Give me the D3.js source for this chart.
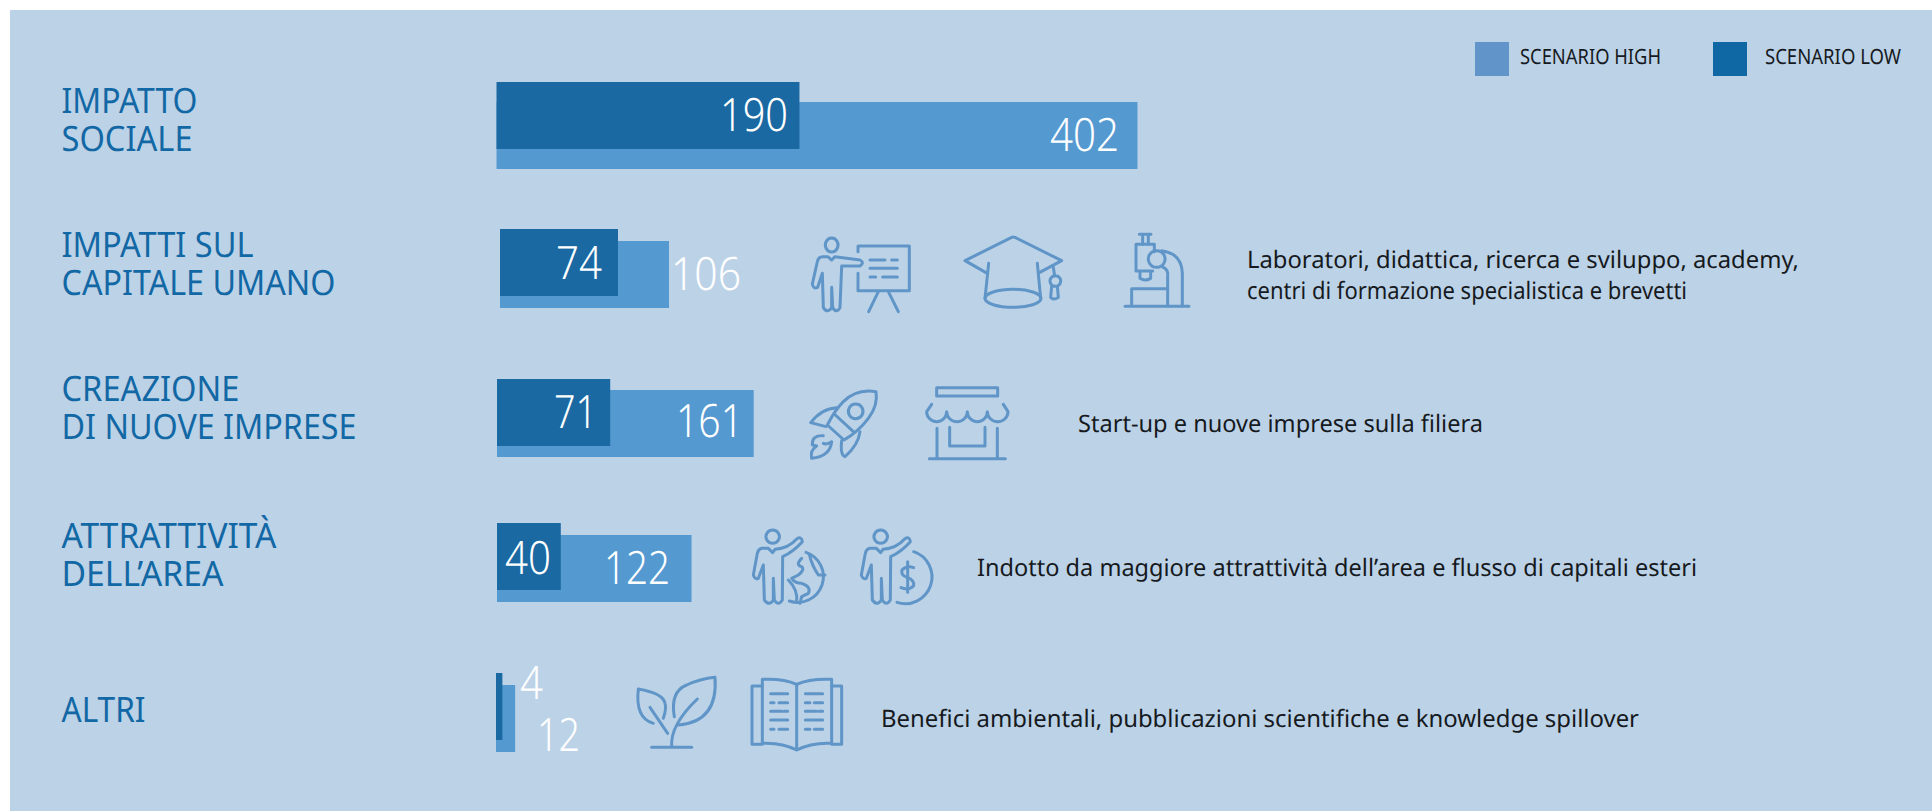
<!DOCTYPE html>
<html>
<head>
<meta charset="utf-8">
<script src="https://cdn.jsdelivr.net/npm/d3@7"></script>
<style>
  html, body { margin: 0; background: #fff; }
  svg { display: block; }
  text { font-family: "Noto Sans", sans-serif; text-rendering: geometricPrecision; }
</style>
</head>
<body>
<script>
const categories = ['sociale', 'umano', 'imprese', 'area', 'altri']
const labels = [
  ['IMPATTO', 'SOCIALE'],
  ['IMPATTI SUL', 'CAPITALE UMANO'],
  ['CREAZIONE', 'DI NUOVE IMPRESE'],
  ['ATTRATTIVITÀ', 'DELL’AREA'],
  ['ALTRI']
]
const scenarioHigh = [402, 106, 161, 122, 12]
const scenarioLow = [190, 74, 71, 40, 4]
const descriptions = [
  [],
  ['Laboratori, didattica, ricerca e sviluppo, academy,', 'centri di formazione specialistica e brevetti'],
  ['Start-up e nuove imprese sulla filiera'],
  ['Indotto da maggiore attrattività dell’area e flusso di capitali esteri'],
  ['Benefici ambientali, pubblicazioni scientifiche e knowledge spillover']
]

const width = 1932
const height = 812
const barH = 67

const colors = { panel: '#bcd2e7', low: '#1a69a2', high: '#5599d1', label: '#1268a5',
  icon: '#6095c8', legendHigh: '#6195c9', legendLow: '#0f68a3', text: '#161a1e' }

// source font is narrower than anything installed, so widths are forced
const labelWidths = {
  'IMPATTO': 136, 'SOCIALE': 131, 'IMPATTI SUL': 192, 'CAPITALE UMANO': 274,
  'CREAZIONE': 178, 'DI NUOVE IMPRESE': 295, 'ATTRATTIVITÀ': 215, 'DELL’AREA': 162, 'ALTRI': 84
}

// the bars are not evenly placed in the picture, hence ordinal scales
let yLow = d3.scaleOrdinal(categories, [82, 229, 379, 523, 673])
let yHigh = d3.scaleOrdinal(categories, [102, 241, 390, 535, 685])
let x0 = d3.scaleOrdinal(categories, [496.5, 500, 497, 497, 496])
let x = d3.scaleLinear().domain([0, 402]).range([0, 641])

// label, number and description placement per row
let labelY = d3.scaleOrdinal(categories, [113, 257, 401, 548, 722])
let highNum = d3.scaleOrdinal(categories, [
  { x: 1119, y: 151, w: 69 }, { x: 741, y: 290, w: 70 }, { x: 743, y: 437, w: 67 },
  { x: 670, y: 584, w: 66 }, { x: 580, y: 751, w: 43 }])
let lowNum = d3.scaleOrdinal(categories, [
  { x: 788, y: 131, w: 68 }, { x: 602, y: 279, w: 46 }, { x: 597, y: 428, w: 43 },
  { x: 551, y: 574, w: 46 }, { x: 543, y: 699, w: 23 }])
let descPos = d3.scaleOrdinal(categories, [
  { x: 0, y: 0, w: [] }, { x: 1247, y: 268, w: [552, 440] }, { x: 1078, y: 432, w: [405] },
  { x: 977, y: 576, w: [720] }, { x: 881, y: 727, w: [758] }])

let rows = categories.map((key, i) => ({
  key, label: labels[i], high: scenarioHigh[i], low: scenarioLow[i], desc: descriptions[i]
}))

let svg = d3.select('body').append('svg')
  .attr('width', width)
  .attr('height', height)

svg.append('rect')
  .attr('x', 10).attr('y', 10)
  .attr('width', width - 10).attr('height', height - 11)
  .attr('fill', colors.panel)

let row = svg.selectAll('g.row')
    .data(rows)
  .enter().append('g')
    .attr('class', 'row')

row.append('rect')
  .attr('fill', colors.high)
  .attr('x', (d) => x0(d.key))
  .attr('y', (d) => yHigh(d.key))
  .attr('width', (d) => x(d.high))
  .attr('height', barH)

row.append('rect')
  .attr('fill', colors.low)
  .attr('x', (d) => x0(d.key))
  .attr('y', (d) => yLow(d.key))
  .attr('width', (d) => x(d.low))
  .attr('height', barH)

row.selectAll('text.label')
    .data((d) => d.label.map((t, i) => ({ t, y: labelY(d.key) + i * 37.5 })))
  .enter().append('text')
    .attr('class', 'label')
    .attr('x', 61.5)
    .attr('y', (d) => d.y)
    .attr('fill', colors.label)
    .attr('font-size', 35)
    .attr('textLength', (d) => labelWidths[d.t])
    .attr('lengthAdjust', 'spacingAndGlyphs')
    .text((d) => d.t)

row.append('text')
  .attr('class', 'num')
  .attr('x', (d) => highNum(d.key).x - highNum(d.key).w)
  .attr('y', (d) => highNum(d.key).y)
  .attr('textLength', (d) => highNum(d.key).w)
  .text((d) => d.high)

row.append('text')
  .attr('class', 'num')
  .attr('x', (d) => lowNum(d.key).x - lowNum(d.key).w)
  .attr('y', (d) => lowNum(d.key).y)
  .attr('textLength', (d) => lowNum(d.key).w)
  .text((d) => d.low)

row.selectAll('.num')
  .attr('fill', '#fff')
  .attr('font-size', 46)
  .attr('font-weight', 300)
  .attr('font-family', 'Lato, sans-serif')
  .attr('lengthAdjust', 'spacingAndGlyphs')

row.selectAll('text.desc')
    .data((d) => d.desc.map((t, i) => ({ t, i, p: descPos(d.key) })))
  .enter().append('text')
    .attr('class', 'desc')
    .attr('x', (d) => d.p.x)
    .attr('y', (d) => d.p.y + d.i * 31)
    .attr('fill', colors.text)
    .attr('font-size', 24)
    .attr('textLength', (d) => d.p.w[d.i])
    .attr('lengthAdjust', 'spacingAndGlyphs')
    .text((d) => d.t)

// legend
let legend = svg.append('g')
legend.selectAll('rect')
    .data([{ x: 1475, c: colors.legendHigh }, { x: 1713, c: colors.legendLow }])
  .enter().append('rect')
    .attr('x', (d) => d.x).attr('y', 42)
    .attr('width', 34).attr('height', 34)
    .attr('fill', (d) => d.c)
legend.selectAll('text')
    .data([{ x: 1520, w: 141, t: 'SCENARIO HIGH' }, { x: 1765, w: 136, t: 'SCENARIO LOW' }])
  .enter().append('text')
    .attr('x', (d) => d.x).attr('y', 64)
    .attr('font-size', 21)
    .attr('fill', colors.text)
    .attr('textLength', (d) => d.w)
    .attr('lengthAdjust', 'spacingAndGlyphs')
    .text((d) => d.t)

// icons, traced at 3x
const person = 'M127 190L130 293Q142 312 155 293L155 232L158 293Q170 312 180 293L185 168L240 168Q255 158 240 150L165 140L155 150L143 140L128 140Q115 140 112 155L97 222Q100 238 113 232L127 190'
const pointing = 'M100 150L103 255Q118 275 130 255L130 190L133 255Q145 275 157 255L158 125Q190 110 217 80Q215 62 200 72Q175 100 135 103L128 113L115 100L95 100Q85 102 82 115L70 180Q75 195 85 190L100 150'
const icons = [
  { at: [780, 210], paths: [person,
    'M155 84a19 21 0 1 0 .1 0Z',
    'M234 125V108H388V242H234V190',
    'M270 150H315M335 150H352M270 175H352M270 201H287M308 201H352',
    'M295 245L266 305M325 245L355 305',
    'M622 190L555 152L695 82Q700 80 705 82L845 152L778 188',
    'M626 160L615 265M772 160L782 265',
    'M615 265a84 27 0 1 0 168 0a84 27 0 1 0 -168 0Z',
    'M820 172L824 198M826 197a16 16 0 1 0 .1 0ZM815 228L812 262Q822 272 835 262L832 228',
    'M1078 73H1113M1088 75V103M1105 75V103',
    'M1123 125V103H1068V183H1118',
    'M1080 185V205Q1095 215 1112 205V185',
    'M1130 122a25 25 0 1 0 .1 0Z',
    'M1145 122Q1205 130 1207 190V288M1150 172Q1165 180 1163 195V288',
    'M1035 289H1227M1055 288V236H1163'] },
  { at: [780, 370], paths: [
    'M288 65Q230 55 190 95Q165 120 142 165L192 210Q235 185 265 145Q295 105 288 65Z',
    'M227 102a22 22 0 1 0 .1 0Z',
    'M163 132L220 185',
    'M170 113Q125 115 92 158L138 170',
    'M240 185Q235 225 195 260Q180 255 185 212',
    'M130 197Q95 195 97 225L110 228Q90 240 95 265Q150 260 155 215Q140 225 130 220',
    'M470 53H653V78H470Z',
    'M455 103L440 125A30 30 0 0 0 500 125A31 30 0 0 0 562 125A30 30 0 0 0 622 125A31 30 0 0 0 684 125L670 103',
    'M471 175V265M652 175V265M448 266H676M509 172V228H615V172'] },
  { at: [730, 515], paths: [pointing,
    'M128 45a20 20 0 1 0 .1 0Z',
    'M228 112A75 75 0 0 1 178 258',
    'M215 130Q195 150 215 155Q225 165 205 180L185 190Q195 205 215 205Q245 215 235 235L215 245L210 265',
    'M175 195Q205 225 200 262',
    'M238 118Q245 150 265 180L285 180'] },
  { at: [838, 515], paths: [pointing,
    'M128 45a20 20 0 1 0 .1 0Z',
    'M227 110A75 75 0 0 1 177 262',
    'M227 158Q207 150 192 165Q187 180 207 187Q230 195 227 212Q212 228 189 218',
    'M209 140V232'] },
  { at: [620, 665], paths: [
    'M100 175Q45 160 55 72Q130 85 135 115Q140 130 130 160',
    'M90 127L143 205',
    'M163 155Q150 80 200 60Q240 42 285 37Q295 170 175 180',
    'M232 102Q150 180 155 245',
    'M95 247H215',
    'M427 235V43Q490 40 530 58Q570 40 635 43V235Q575 232 530 255Q485 232 427 235Z',
    'M530 58V250',
    'M427 63H396V238H427M635 63H665V238H635',
    'M452 86H503M452 113H462M477 113H503M452 139H487M493 139H503M452 165H503M452 193H462M477 193H503',
    'M556 86H608M556 113H570M583 113H608M556 139H590M597 139H608M556 165H608M556 193H570M583 193H608'] }
]

svg.selectAll('g.icon')
    .data(icons)
  .enter().append('g')
    .attr('class', 'icon')
    .attr('transform', (d) => 'translate(' + d.at + ') scale(' + 1 / 3 + ')')
  .selectAll('path')
    .data((d) => d.paths)
  .enter().append('path')
    .attr('d', (d) => d)
    .attr('fill', 'none')
    .attr('stroke', colors.icon)
    .attr('stroke-width', 9)
    .attr('stroke-linecap', 'round')
    .attr('stroke-linejoin', 'round')
</script>
</body>
</html>
